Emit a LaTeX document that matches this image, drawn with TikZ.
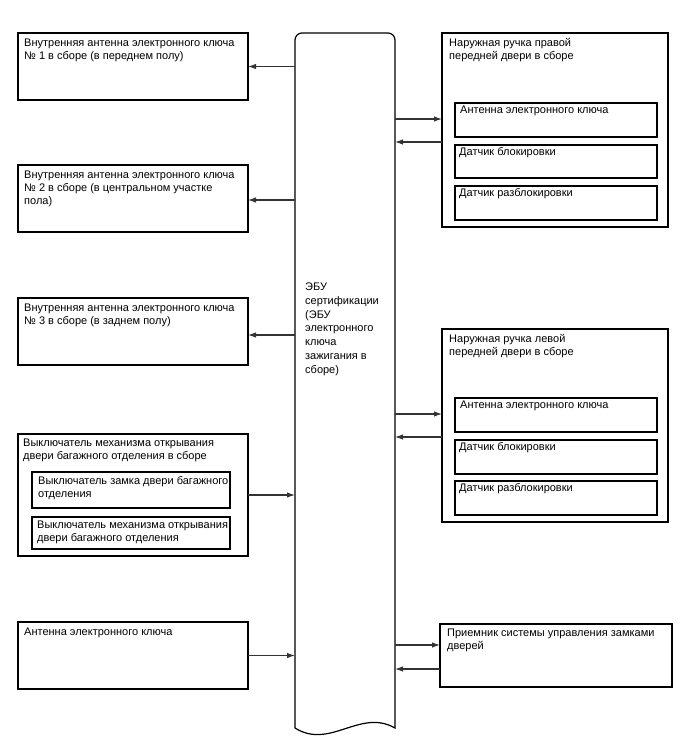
\documentclass[tikz,border=0pt]{standalone}
\usepackage{fontspec}
\setmainfont{Liberation Sans}
\usetikzlibrary{arrows.meta,calc}
\begin{document}
\begin{tikzpicture}[x=1pt,y=-1pt,
  box/.style={draw, line width=1.2pt, rectangle, anchor=north west, inner sep=0pt, outer sep=0pt},
  lbl/.style={anchor=north west, inner sep=0pt, align=left, font=\fontsize{11}{13}\selectfont},
  arr/.style={line width=1.1pt, draw=black!80, -{Latex[length=8pt,width=5.5pt]}}]
\useasboundingbox (0,0) rectangle (688,755);

% central ECU
\node[rectangle, draw=none, anchor=north west, inner sep=0pt, outer sep=0pt,
      minimum width=100pt, minimum height=695pt] (ecu) at (295,33) {};
\draw[line width=1.2pt] (ecu.south west) -- ([yshift=-7pt]ecu.north west)
  arc[start angle=180, end angle=90, radius=7pt] -- ([xshift=-7pt]ecu.north east)
  arc[start angle=90, end angle=0, radius=7pt] -- (ecu.south east)
  .. controls (360,708) and (330,750) .. (ecu.south west);
\node[lbl, font=\fontsize{11}{13.7}\selectfont] (ecut) at (305,283)
  {ЭБУ\\сертификации\\(ЭБУ\\электронного\\ключа\\зажигания в\\сборе)};

% left boxes
\node[box, minimum width=230pt, minimum height=67pt] (l1) at (18,33) {};
\node[lbl] (l1t) at (24,38.5) {Внутренняя антенна электронного ключа\\№ 1 в сборе (в переднем полу)};
\node[box, minimum width=230pt, minimum height=67pt] (l2) at (18,165) {};
\node[lbl] (l2t) at (24,170.5) {Внутренняя антенна электронного ключа\\№ 2 в сборе (в центральном участке\\пола)};
\node[box, minimum width=230pt, minimum height=67pt] (l3) at (18,298) {};
\node[lbl] (l3t) at (24,303.5) {Внутренняя антенна электронного ключа\\№ 3 в сборе (в заднем полу)};
\node[box, minimum width=230pt, minimum height=122pt] (l4) at (18,434) {};
\node[lbl] (l4t) at (23,438.5) {Выключатель механизма открывания\\двери багажного отделения в сборе};
\node[box, minimum width=198pt, minimum height=36pt] (l4a) at (32,472) {};
\node[lbl] (l4at) at (38,476.5) {Выключатель замка двери багажного\\отделения};
\node[box, minimum width=198pt, minimum height=32pt] (l4b) at (32,517) {};
\node[lbl] (l4bt) at (37,520.5) {Выключатель механизма открывания\\двери багажного отделения};
\node[box, minimum width=230pt, minimum height=67pt] (l5) at (18,622) {};
\node[lbl] (l5t) at (24,627.5) {Антенна электронного ключа};

% right boxes
\node[box, minimum width=226pt, minimum height=194pt] (r1) at (442,33) {};
\node[lbl] (r1t) at (449,38.5) {Наружная ручка правой\\передней двери в сборе};
\node[box, minimum width=202pt, minimum height=34pt] (r1a) at (455,103) {};
\node[lbl] (r1at) at (460,105.5) {Антенна электронного ключа};
\node[box, minimum width=202pt, minimum height=33pt] (r1b) at (455,145) {};
\node[lbl] (r1bt) at (459,147.5) {Датчик блокировки};
\node[box, minimum width=202pt, minimum height=34pt] (r1c) at (455,186) {};
\node[lbl] (r1ct) at (459,188.5) {Датчик разблокировки};

\node[box, minimum width=226pt, minimum height=193pt] (r2) at (442,329) {};
\node[lbl] (r2t) at (449,334.5) {Наружная ручка левой\\передней двери в сборе};
\node[box, minimum width=202pt, minimum height=34pt] (r2a) at (455,398) {};
\node[lbl] (r2at) at (460,400.5) {Антенна электронного ключа};
\node[box, minimum width=202pt, minimum height=34pt] (r2b) at (455,440) {};
\node[lbl] (r2bt) at (459,442.5) {Датчик блокировки};
\node[box, minimum width=202pt, minimum height=34pt] (r2c) at (455,481) {};
\node[lbl] (r2ct) at (459,483.5) {Датчик разблокировки};

\node[box, minimum width=232pt, minimum height=63pt] (r3) at (440,624) {};
\node[lbl] (r3t) at (447,628.5) {Приемник системы управления замками\\дверей};

% connectors
\draw[arr] (ecu.west |- l1.east) -- (l1.east);
\draw[arr] ($(ecu.west |- l2.east)+(0,1.5)$) -- ($(l2.east)+(0,1.5)$);
\draw[arr] ($(ecu.west |- l3.east)+(0,3.5)$) -- ($(l3.east)+(0,3.5)$);
\draw[arr] (l4.east) -- (ecu.west |- l4.east);
\draw[arr] (l5.east) -- (ecu.west |- l5.east);

\draw[arr] (ecu.east |- 0,119) -- (r1.west |- 0,119);
\draw[arr] (r1.west |- 0,142) -- (ecu.east |- 0,142);
\draw[arr] (ecu.east |- 0,414) -- (r2.west |- 0,414);
\draw[arr] (r2.west |- 0,437) -- (ecu.east |- 0,437);
\draw[arr] (ecu.east |- 0,645) -- (r3.west |- 0,645);
\draw[arr] (r3.west |- 0,669) -- (ecu.east |- 0,669);
\end{tikzpicture}
\end{document}
